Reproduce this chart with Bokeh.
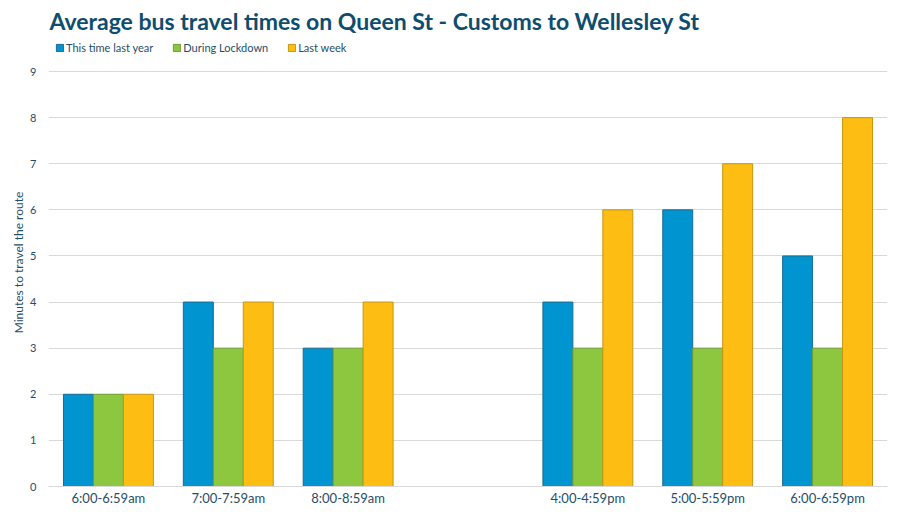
from bokeh.plotting import figure
from bokeh.models import FactorRange, Range1d, ColumnDataSource, Legend, LegendItem
from bokeh.transform import dodge
from bokeh.embed import file_html
from bokeh.resources import INLINE

categories = ["6:00-6:59am", "7:00-7:59am", "8:00-8:59am", " ", "4:00-4:59pm", "5:00-5:59pm", "6:00-6:59pm"]
bar_categories = ["6:00-6:59am", "7:00-7:59am", "8:00-8:59am", "4:00-4:59pm", "5:00-5:59pm", "6:00-6:59pm"]
last_year = [2, 4, 3, 4, 6, 5]
lockdown = [2, 3, 3, 3, 3, 3]
last_week = [2, 4, 4, 6, 7, 8]
series_names = ["This time last year", "During Lockdown", "Last week"]
y_ticks = [0, 1, 2, 3, 4, 5, 6, 7, 8, 9]

FONT = "Lato"
TXT = "#1f4e6b"

src = ColumnDataSource(dict(cat=bar_categories, a=last_year, b=lockdown, c=last_week))

# y range extends a little above 9 so the legend sits above the top gridline
p = figure(x_range=FactorRange(*categories, range_padding=0), y_range=Range1d(0, 9.716),
           width=892, height=508, output_backend="svg", toolbar_location=None,
           min_border_left=48, min_border_right=5, min_border_top=38, min_border_bottom=22)

p.title.text = "Average bus travel times on Queen St - Customs to Wellesley St"
p.title.text_font = FONT
p.title.text_font_size = "23px"
p.title.text_font_style = "bold"
p.title.text_color = "#0e4d6e"
p.title.offset = 1
p.title.standoff = 8

fills = ["#0094d0", "#8dc63f", "#fdbd12"]
edges = ["#1a6b92", "#6e9e33", "#c79612"]
cols = ["a", "b", "c"]
offs = [-0.25, 0.0, 0.25]
rs = []
for col, off, f, e in zip(cols, offs, fills, edges):
    r = p.vbar(x=dodge("cat", off, range=p.x_range), top=col, width=0.25, source=src,
               fill_color=f, line_color=e, line_width=1)
    rs.append(r)

legend = Legend(items=[LegendItem(label=n, renderers=[r]) for n, r in zip(series_names, rs)],
                orientation="horizontal", location=(7, 432),
                label_text_font=FONT, label_text_font_size="11px", label_text_color=TXT,
                glyph_width=9, glyph_height=9, label_standoff=2, spacing=19, label_height=12,
                padding=0, margin=0, border_line_color=None, background_fill_alpha=0)
p.add_layout(legend, "center")

p.xgrid.grid_line_color = None
p.ygrid.grid_line_color = "#d9d9d9"
p.ygrid.ticker = y_ticks
p.yaxis.ticker = y_ticks
p.outline_line_color = None

p.yaxis.axis_line_color = None
p.yaxis.major_tick_line_color = None
p.yaxis.minor_tick_line_color = None
p.yaxis.major_tick_out = 0
p.yaxis.major_tick_in = 0
p.yaxis.major_label_text_font = FONT
p.yaxis.major_label_text_font_size = "11px"
p.yaxis.major_label_text_color = TXT
p.yaxis.major_label_standoff = 12
p.yaxis.axis_label = "Minutes to travel the route"
p.yaxis.axis_label_text_font = FONT
p.yaxis.axis_label_text_font_size = "12px"
p.yaxis.axis_label_text_font_style = "normal"
p.yaxis.axis_label_text_color = TXT
p.yaxis.axis_label_standoff = 1

p.xaxis.axis_line_color = "#d9d9d9"
p.xaxis.major_tick_line_color = None
p.xaxis.minor_tick_line_color = None
p.xaxis.major_tick_out = 0
p.xaxis.major_tick_in = 0
p.xaxis.major_label_text_font = FONT
p.xaxis.major_label_text_font_size = "13px"
p.xaxis.major_label_text_color = TXT
p.xaxis.major_label_standoff = 3

open("out.html", "w").write(file_html(p, INLINE))
